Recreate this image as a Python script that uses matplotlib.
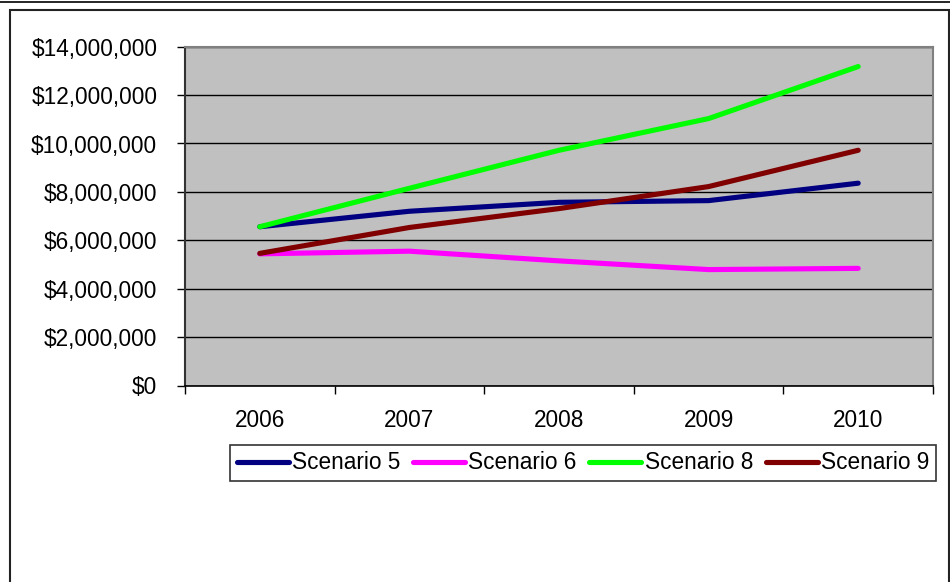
import matplotlib
matplotlib.use("Agg")
import matplotlib.pyplot as plt
from matplotlib.patches import Rectangle
from matplotlib.lines import Line2D
from matplotlib.ticker import FuncFormatter, FixedLocator

plt.rcParams['font.family'] = ['Liberation Sans', 'DejaVu Sans']

# --- data ---
years = ['2006', '2007', '2008', '2009', '2010']
scenario_5 = [6.56e6, 7.20e6, 7.57e6, 7.64e6, 8.36e6]
scenario_6 = [5.44e6, 5.55e6, 5.15e6, 4.79e6, 4.84e6]
scenario_8 = [6.56e6, 8.15e6, 9.72e6, 11.03e6, 13.18e6]
scenario_9 = [5.46e6, 6.53e6, 7.31e6, 8.22e6, 9.72e6]

series = [
    ('Scenario 5', scenario_5, '#000080'),
    ('Scenario 6', scenario_6, '#FF00FF'),
    ('Scenario 8', scenario_8, '#00FF00'),
    ('Scenario 9', scenario_9, '#800000'),
]

W, H = 950, 582
FS = 16.3
fig = plt.figure(figsize=(W / 100, H / 100), dpi=100)
fig.patch.set_facecolor('white')

def px(x0, y0, w, h):
    # pixel box (top-left origin) -> figure fraction
    return [x0 / W, 1 - (y0 + h) / H, w / W, h / H]

# outer chart frame and the stray top rule
fig.add_artist(Line2D([0, 1], [1 - 1.5 / H] * 2, color='black', lw=1.2,
                      transform=fig.transFigure))
fig.add_artist(Rectangle((10 / W, -0.05), 939 / W, 1 - 10 / H + 0.05,
                         transform=fig.transFigure, fill=False,
                         edgecolor='#222222', lw=1.5))

ax = fig.add_axes(px(185, 46.7, 748, 338.8))
ax.set_facecolor('#C0C0C0')

x = list(range(len(years)))
handles = []
for name, vals, col in series:
    h, = ax.plot(x, vals, color=col, lw=3.7, solid_capstyle='round',
                 solid_joinstyle='round', label=name)
    handles.append(h)

ax.set_xlim(-0.5, len(years) - 0.5)
ax.set_ylim(0, 14e6)
ax.set_yticks([i * 2e6 for i in range(8)])
ax.yaxis.set_major_formatter(FuncFormatter(lambda v, p: '${:,.0f}'.format(v)))
ax.grid(axis='y', color='black', lw=1.0)
ax.set_axisbelow(True)

# category labels centred, tick marks on the boundaries
ax.set_xticks(x)
ax.set_xticklabels(years)
ax.tick_params(axis='x', which='major', length=0, pad=17, labelsize=FS)
ax.xaxis.set_minor_locator(FixedLocator([i - 0.5 for i in range(len(years) + 1)]))
ax.tick_params(axis='x', which='minor', length=6, width=1, direction='out')
ax.tick_params(axis='y', length=6, width=1, direction='out', pad=14, labelsize=FS)

for side in ['top', 'right']:
    ax.spines[side].set_color('#808080')
    ax.spines[side].set_linewidth(1.5)
ax.spines['left'].set_color('#333333')
ax.spines['left'].set_linewidth(1.5)
ax.spines['bottom'].set_color('black')
ax.spines['bottom'].set_linewidth(1.2)

leg = fig.legend(handles=handles, loc='center',
                 bbox_to_anchor=((226 + 940) / 2 / W, 1 - 463 / H),
                 ncol=4, fontsize=FS, frameon=True, fancybox=False,
                 edgecolor='black', handlelength=2.3, handletextpad=0.15,
                 columnspacing=0.55, borderpad=0.3, borderaxespad=0)
leg.get_frame().set_linewidth(1.2)

fig.savefig('out.png', dpi=100)
